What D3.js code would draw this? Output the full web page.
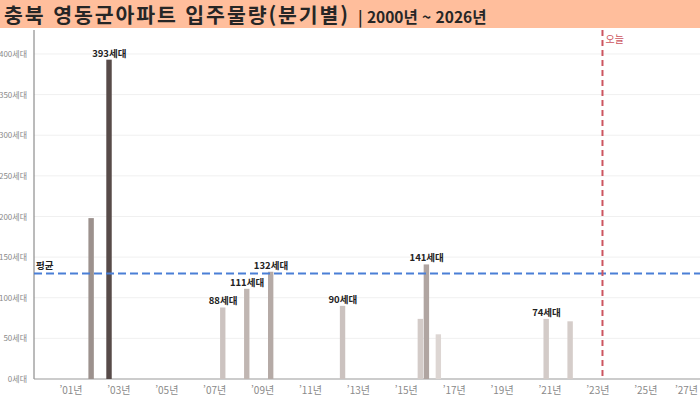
<!DOCTYPE html>
<html lang="ko">
<head>
  <meta charset="UTF-8">
  <title>충북 영동군아파트 입주물량(분기별)</title>
  <style>
    body { margin: 0; background: #fff; }
    svg { display: block; font-family: "Noto Sans CJK KR", sans-serif; }
  </style>
</head>
<body>
  <svg id="chart" width="700" height="397"></svg>
  <script src="https://cdn.jsdelivr.net/npm/d3@7"></script>
  <script>
    // 분기별 입주물량 (0 인 분기는 생략)
    const quarters = ["2001Q4", "2002Q3", "2007Q2", "2008Q2", "2009Q2", "2012Q2",
                      "2015Q3", "2015Q4", "2016Q2", "2020Q4", "2021Q4"];
    const units = [198, 393, 88, 111, 132, 90, 74, 141, 55, 74, 71];
    const showLabel = [false, true, true, true, true, true, false, true, false, true, false];
    const yTicks = [0, 50, 100, 150, 200, 250, 300, 350, 400];
    const xTickYears = [2001, 2003, 2005, 2007, 2009, 2011, 2013, 2015, 2017, 2019, 2021, 2023, 2025, 2027];
    const today = new Date(2023, 2, 20);

    const W = 700, H = 397;
    const plotLeft = 34, plotTop = 30, plotBottom = 379;
    const svg = d3.select("#chart");

    // 제목 영역
    svg.append("rect").attr("x", 0).attr("y", 0).attr("width", W).attr("height", 28)
      .attr("fill", "#ffbe9c");
    const title = svg.append("text").attr("x", 4).attr("y", 23)
      .attr("fill", "#262626").attr("font-weight", 700);
    title.append("tspan").attr("font-size", 20.5).attr("letter-spacing", 1.9)
      .text("충북 영동군아파트 입주물량(분기별)");
    title.append("tspan").attr("font-size", 15.5).attr("dx", 8).attr("letter-spacing", 0)
      .text("| 2000년 ~ 2026년");

    // 스케일
    const parseQ = q => new Date(+q.slice(0, 4), (+q.slice(5) - 1) * 3, 1);
    const x = d3.scaleTime()
      .domain([new Date(2001, 0, 1), new Date(2025, 0, 1)])
      .range([70.5, 645.3]);
    const y = d3.scaleLinear().domain([0, 429.5]).range([plotBottom, plotTop]);
    const color = d3.scaleLinear().domain([55, 141, 393])
      .range(["#ddd6d3", "#b0a5a1", "#574b49"]);

    // 격자
    svg.append("g").selectAll("line").data(yTicks.slice(1)).join("line")
      .attr("x1", plotLeft).attr("x2", W)
      .attr("y1", d => y(d)).attr("y2", d => y(d))
      .attr("stroke", "#f0f0f0").attr("stroke-width", 1);

    // y 축
    const yAxis = svg.append("g").attr("transform", `translate(${plotLeft},0)`)
      .call(d3.axisLeft(y).tickValues(yTicks).tickSize(0).tickPadding(7)
        .tickFormat(d => d + "세대"));
    yAxis.select(".domain").remove();
    yAxis.selectAll("text").attr("font-size", 8).attr("fill", "#8a8a8a")
      .attr("font-family", "Noto Sans CJK KR, sans-serif");
    svg.append("line").attr("x1", plotLeft).attr("x2", plotLeft).attr("y1", plotTop).attr("y2", plotBottom)
      .attr("stroke", "#777").attr("stroke-width", 1);

    // x 축
    const xAxis = svg.append("g").attr("transform", `translate(0,${plotBottom})`)
      .call(d3.axisBottom(x).tickValues(xTickYears.map(yr => new Date(yr, 0, 1)))
        .tickSize(0).tickPadding(8)
        .tickFormat(d => "’" + d3.timeFormat("%y")(d) + "년"));
    xAxis.select(".domain").remove();
    xAxis.selectAll("text").attr("font-size", 10).attr("fill", "#8a8a8a")
      .attr("font-family", "Noto Sans CJK KR, sans-serif")
      .each(function () {
        const b = this.getBBox();
        const tx = +this.parentNode.getAttribute("transform").match(/translate\(([-\d.]+)/)[1];
        if (tx + b.x + b.width > W - 2) {
          d3.select(this).attr("text-anchor", "end").attr("x", W - 2 - tx);
        }
      });
    svg.append("line").attr("x1", plotLeft).attr("x2", W).attr("y1", plotBottom).attr("y2", plotBottom)
      .attr("stroke", "#999").attr("stroke-width", 1);

    // 막대
    const rows = quarters.map((q, i) => ({ start: parseQ(q), value: units[i], label: showLabel[i] }));
    const endOf = d => d3.timeMonth.offset(d, 3);
    svg.append("g").selectAll("rect").data(rows).join("rect")
      .attr("x", d => x(d.start))
      .attr("width", d => x(endOf(d.start)) - x(d.start) - 0.6)
      .attr("y", d => y(d.value))
      .attr("height", d => plotBottom - y(d.value))
      .attr("fill", d => color(d.value));

    svg.append("g").selectAll("text").data(rows.filter(d => d.label)).join("text")
      .attr("x", d => (x(d.start) + x(endOf(d.start))) / 2)
      .attr("y", d => y(d.value) - 3)
      .attr("text-anchor", "middle")
      .attr("font-size", 9.5).attr("font-weight", 700).attr("fill", "#222")
      .text(d => d.value + "세대");

    // 평균선
    const avg = d3.mean(units);
    svg.append("line").attr("x1", plotLeft).attr("x2", W).attr("y1", y(avg)).attr("y2", y(avg))
      .attr("stroke", "#4a7fd6").attr("stroke-width", 2).attr("stroke-dasharray", "8,4");
    svg.append("text").attr("x", plotLeft + 2).attr("y", y(avg) - 5)
      .attr("font-size", 9.5).attr("font-weight", 700).attr("fill", "#222").text("평균");

    // 오늘
    svg.append("line").attr("x1", x(today)).attr("x2", x(today)).attr("y1", plotTop).attr("y2", plotBottom)
      .attr("stroke", "#cc5560").attr("stroke-width", 2).attr("stroke-dasharray", "6,4");
    svg.append("text").attr("x", x(today) + 3).attr("y", plotTop + 13)
      .attr("font-size", 10).attr("fill", "#cc5560").text("오늘");
  </script>
</body>
</html>
